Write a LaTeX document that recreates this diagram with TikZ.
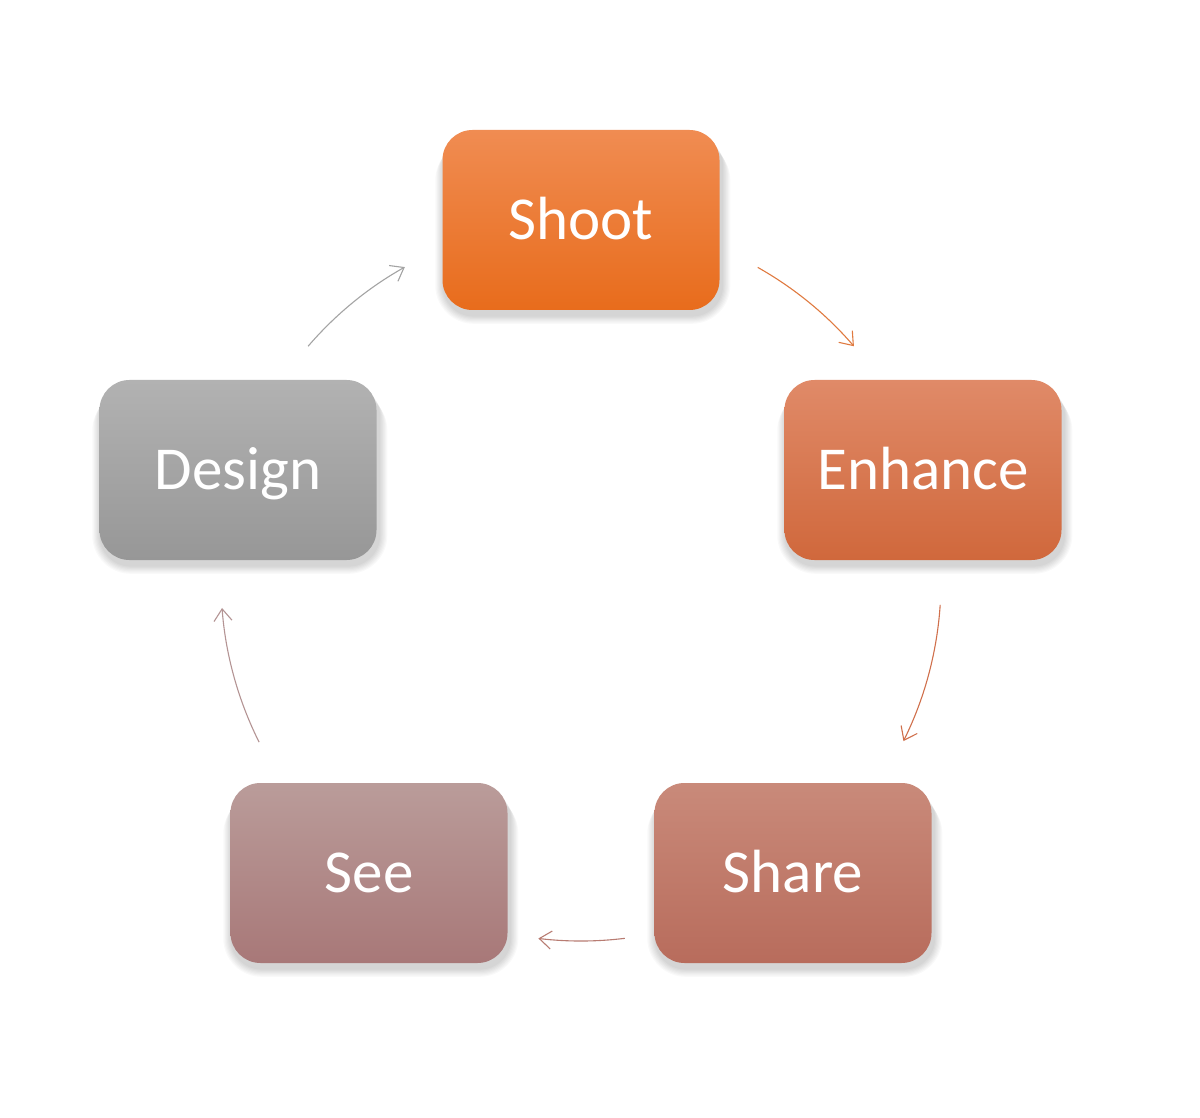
\documentclass[tikz,border=0pt]{standalone}
\usepackage{fontspec}
\setmainfont{Carlito}
\usetikzlibrary{arrows.meta,backgrounds}
\definecolor{shootT}{HTML}{F08C52}
\definecolor{shootB}{HTML}{E86C1C}
\definecolor{enhT}{HTML}{E08A68}
\definecolor{enhB}{HTML}{D0683C}
\definecolor{shareT}{HTML}{C98A7A}
\definecolor{shareB}{HTML}{B86C5C}
\definecolor{seeT}{HTML}{BA9C9A}
\definecolor{seeB}{HTML}{A87878}
\definecolor{desT}{HTML}{B2B2B2}
\definecolor{desB}{HTML}{979797}
\definecolor{arrA}{HTML}{E07A40}
\definecolor{arrB}{HTML}{D0704C}
\definecolor{arrC}{HTML}{B87C72}
\definecolor{arrD}{HTML}{B49494}
\definecolor{arrE}{HTML}{A4A4A4}
\tikzset{
  stepbox/.style={rounded corners=15pt, minimum width=138.5pt, minimum height=90pt,
    inner sep=0pt, text=white, font=\fontsize{30.5}{36}\selectfont,
    text height=19.5pt, text depth=0pt},
  arr/.style={line width=0.55pt, -{Straight Barb[length=6pt,width=9pt,line width=0.55pt]}}
}
\begin{document}
\begin{tikzpicture}[x=0.5pt,y=-0.5pt]
\useasboundingbox (0,0) rectangle (1200,1118);
\coordinate (c) at (581,581);
\node[stepbox, top color=shootT, bottom color=shootB] (Shoot) at (581,220) {Shoot};
\node[stepbox, top color=enhT, bottom color=enhB] (Enhance) at (923,470) {Enhance};
\node[stepbox, top color=shareT, bottom color=shareB] (Share) at (793,873) {Share};
\node[stepbox, top color=seeT, bottom color=seeB] (See) at (369,873) {See};
\node[stepbox, top color=desT, bottom color=desB] (Design) at (238,470) {Design};
\begin{scope}[on background layer]
\fill[white] (0,0) rectangle (1200,1118);
\foreach \n in {Shoot,Enhance,Share,See,Design}{
  \foreach \i in {1,...,7}{
    \fill[black, opacity=0.025, rounded corners={15pt+\i*0.6pt}]
      ([shift={({-\i*0.6pt+0.8pt},{-\i*0.6pt-2pt})}]\n.north west) rectangle
      ([shift={({\i*0.6pt+1pt},{-\i*0.6pt-2.5pt})}]\n.south east);
  }
}
\end{scope}
\coordinate (a1) at ([shift={(60.6:180pt)}]c);
\coordinate (a2) at ([shift={(-3.8:180pt)}]c);
\coordinate (a3) at ([shift={(-83:180pt)}]c);
\coordinate (a4) at ([shift={(206.6:180pt)}]c);
\coordinate (a5) at ([shift={(139.3:180pt)}]c);
\draw[arr, arrA] (a1) arc[start angle=60.6, end angle=40.7, radius=180pt];
\draw[arr, arrB] (a2) arc[start angle=-3.8, end angle=-26.4, radius=180pt];
\draw[arr, arrC] (a3) arc[start angle=-83, end angle=-96.8, radius=180pt];
\draw[arr, arrD] (a4) arc[start angle=206.6, end angle=184.3, radius=180pt];
\draw[arr, arrE] (a5) arc[start angle=139.3, end angle=119.3, radius=180pt];
\end{tikzpicture}
\end{document}
